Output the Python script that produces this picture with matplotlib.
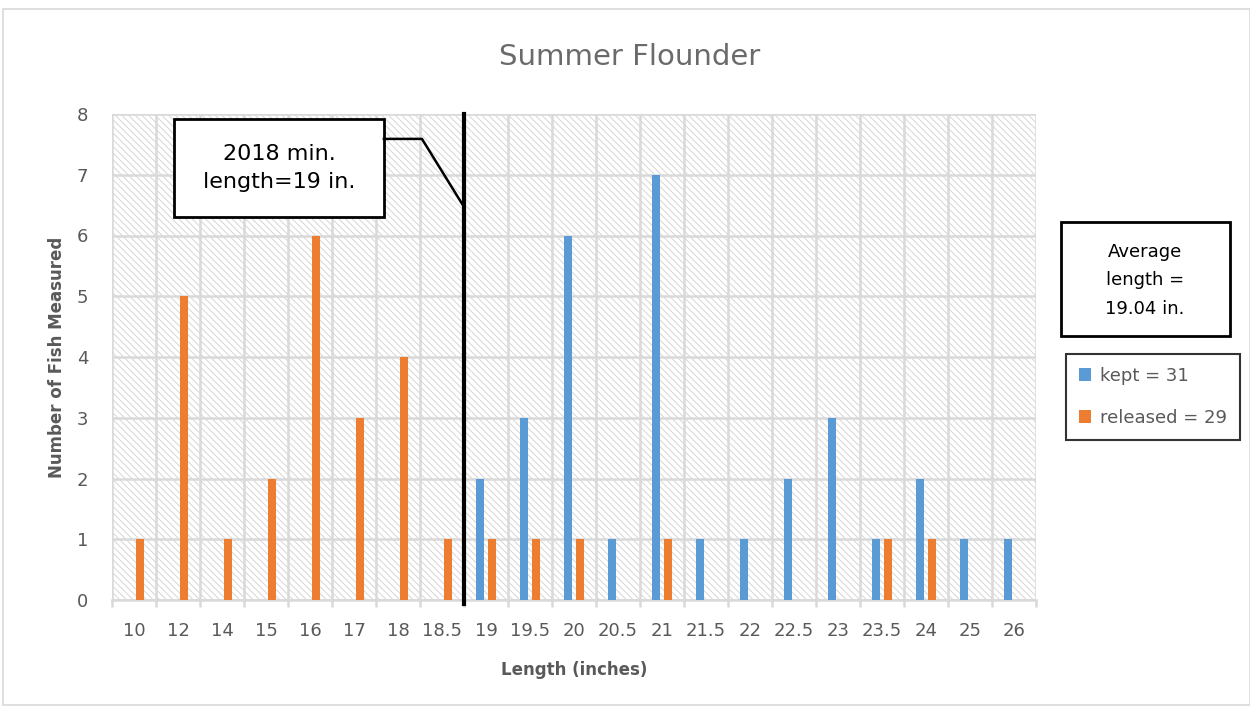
import numpy as np
import matplotlib.pyplot as plt
from matplotlib.patches import Rectangle

# length bins (inches) and fish counts
lengths = ['10', '12', '14', '15', '16', '17', '18', '18.5', '19', '19.5', '20',
           '20.5', '21', '21.5', '22', '22.5', '23', '23.5', '24', '25', '26']
kept = [0, 0, 0, 0, 0, 0, 0, 0, 2, 3, 6, 1, 7, 1, 1, 2, 3, 1, 2, 1, 1]
released = [1, 5, 1, 2, 6, 3, 4, 1, 1, 1, 1, 0, 1, 0, 0, 0, 0, 1, 1, 0, 0]

min_length_bin = '18.5'   # regulation line drawn just after this bin
avg_text = 'Average\nlength =\n19.04 in.'
min_text = '2018 min.\nlength=19 in.'

blue = '#5B9BD5'
orange = '#ED7D31'
gray_txt = '#595959'
grid_c = '#d9d9d9'

plt.rcParams['hatch.linewidth'] = 0.7

fig = plt.figure(figsize=(12.5, 7.09), dpi=100)
W, H = 1250, 709

# outer chart border
fig.patches.append(Rectangle((3 / W, 4 / H), 1 - 3 / W, 1 - 13 / H, transform=fig.transFigure,
                             fill=False, edgecolor=grid_c, lw=1.2))

ax = fig.add_axes([112 / W, 1 - 600 / H, 924 / W, 486 / H])

x = np.arange(len(lengths))
# hatched plot area background
bg = Rectangle((0, 0), 1, 1, transform=ax.transAxes, facecolor='white',
               edgecolor='#d6d6d6', hatch='\\' * 5, lw=0, zorder=0)
ax.add_patch(bg)

ax.bar(x - 0.136, kept, 0.18, color=blue, zorder=3, label='kept = %d' % sum(kept))
ax.bar(x + 0.136, released, 0.18, color=orange, zorder=3, label='released = %d' % sum(released))

ax.set_xlim(-0.5, len(lengths) - 0.5)
ax.set_ylim(0, 8)
ax.set_yticks(range(9))
ax.set_xticks(x)
ax.set_xticklabels(lengths)
ax.set_xticks(np.arange(-0.5, len(lengths), 1), minor=True)
ax.yaxis.grid(True, color=grid_c, lw=1.8, zorder=1)
ax.xaxis.grid(True, which='minor', color=grid_c, lw=1.8, zorder=1)
ax.set_axisbelow(True)
for s in ['top', 'right', 'left']:
    ax.spines[s].set_visible(False)
ax.spines['bottom'].set_color(grid_c)
ax.spines['bottom'].set_linewidth(1.8)
ax.tick_params(axis='y', length=0, pad=17, labelsize=13, labelcolor=gray_txt)
ax.tick_params(axis='x', which='major', length=0, pad=16, labelsize=13, labelcolor=gray_txt)
ax.tick_params(axis='x', which='minor', length=5, width=1.8, color=grid_c)

ax.set_xlabel('Length (inches)', fontsize=12, fontweight='bold', color=gray_txt)
ax.xaxis.set_label_coords(0.5, -0.125)
ax.set_ylabel('Number of Fish Measured', fontsize=12, fontweight='bold', color=gray_txt)
ax.yaxis.set_label_coords(-0.05, 0.5)

# minimum length line
xm = lengths.index(min_length_bin) + 0.5
ax.plot([xm, xm], [8, -0.06], color='black', lw=3, clip_on=False, zorder=5)

# callout for min length
ax.add_patch(Rectangle((0.909, 6.30), 5.68 - 0.909, 7.92 - 6.30, facecolor='white',
                       edgecolor='black', lw=2, zorder=6))
ax.text((0.909 + 5.68) / 2, (6.30 + 7.92) / 2, min_text, ha='center', va='center',
        fontsize=16, linespacing=1.5, zorder=7)
ax.plot([5.68, 6.545, xm], [7.59, 7.59, 6.47], color='black', lw=1.8, zorder=6)

# average box
fig.patches.append(Rectangle((1061 / W, 1 - 336 / H), 169 / W, 114 / H, transform=fig.transFigure,
                             facecolor='white', edgecolor='black', lw=2))
fig.text(1145 / W, 1 - 280 / H, avg_text, ha='center', va='center', fontsize=13,
         linespacing=1.75)

# legend
leg = ax.legend(loc='upper left', bbox_to_anchor=(1066 / W, 1 - 354 / H),
                bbox_transform=fig.transFigure, fontsize=13, frameon=True, fancybox=False,
                edgecolor='black', handlelength=0.7, handleheight=0.7, handletextpad=0.5,
                labelspacing=1.35, borderpad=0.7, borderaxespad=0)
leg.get_frame().set_linewidth(1.5)
for t in leg.get_texts():
    t.set_color(gray_txt)

fig.text(630 / W, 1 - 57 / H, 'Summer Flounder', ha='center', va='center',
         fontsize=21, color='#6a6a6a')

fig.savefig('out.png', dpi=100)
